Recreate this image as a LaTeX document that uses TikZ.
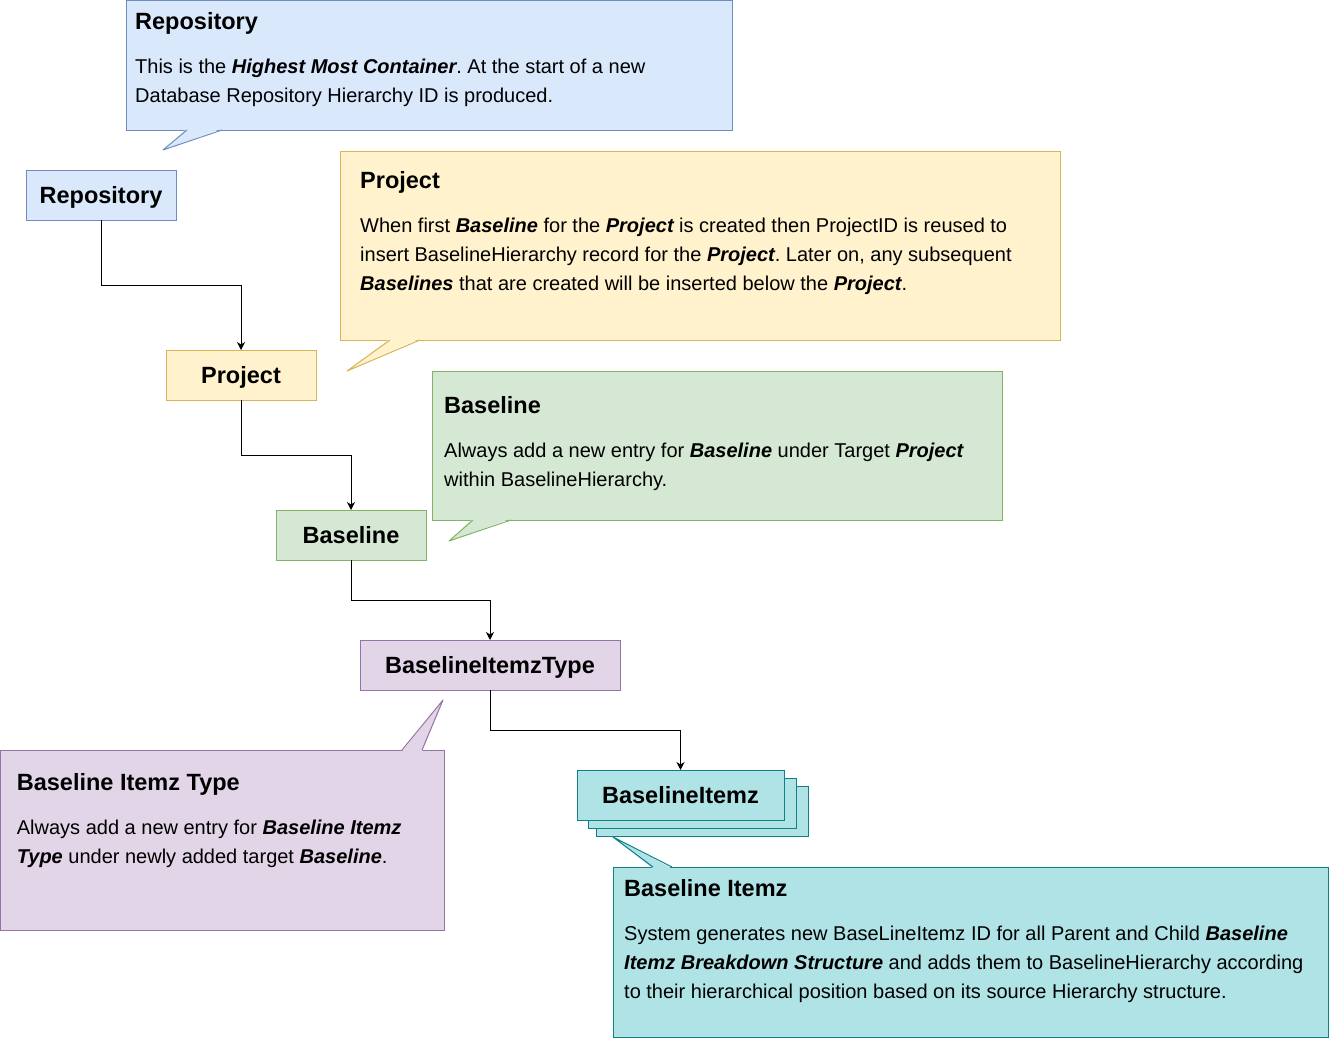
\documentclass[tikz,border=0pt]{standalone}
\usepackage{fontspec}
\setmainfont{Liberation Sans}
\usetikzlibrary{positioning, arrows.meta}

\definecolor{repoFill}{HTML}{DAE8FC}
\definecolor{repoLine}{HTML}{6C8EBF}
\definecolor{projFill}{HTML}{FFF2CC}
\definecolor{projLine}{HTML}{D6B656}
\definecolor{baseFill}{HTML}{D5E8D4}
\definecolor{baseLine}{HTML}{82B366}
\definecolor{typeFill}{HTML}{E1D5E7}
\definecolor{typeLine}{HTML}{9673A6}
\definecolor{itemFill}{HTML}{B0E3E6}
\definecolor{itemLine}{HTML}{0E8088}

\newcommand{\bfit}[1]{{\bfseries\itshape #1}}

\begin{document}
\begin{tikzpicture}[x=1pt, y=-1pt]
    \tikzset{
        box/.style = {rectangle, draw=#1Line, fill=#1Fill, line width=1pt, outer sep=0pt, minimum width=150pt, minimum height=50pt, inner sep=0pt, text height=16.8pt, text depth=0pt, font=\fontsize{23.5}{28}\selectfont\bfseries},
        note/.style = {rectangle, draw=#1Line, fill=#1Fill, line width=1pt, outer sep=0pt, anchor=north west, inner sep=0pt},
        notetext/.style = {anchor=base west, inner sep=0pt, align=left, font=\fontsize{20}{29}\selectfont\frenchspacing},
        line/.style = {draw=black, line width=1pt, -{Stealth[length=8pt, width=8pt, inset=2.5pt]}},
        tail/.style = {draw=#1Line, line width=1pt, line join=round},
    }
    \useasboundingbox (0,0) rectangle (1330,1041);

    % hierarchy
    \node[box=repo](repo) at (101,195) {Repository};
    \node[box=proj](project)[below right = 130pt and -10pt of repo]{Project};
    \node[box=base](baseline)[below right = 110pt and -40pt of project]{Baseline};
    \node[box=type, minimum width=260pt](itemtype)[below right = 80pt and -66pt of baseline]{BaselineItemzType};

    \node[box=item, minimum width=212pt](itemsBack) at (702,811) {};
    \node[box=item, minimum width=208pt](itemsMid) at (692,803) {};
    \node[box=item, minimum width=207pt](items)[below right = 80pt and -43pt of itemtype]{BaselineItemz};

    \path [line] (repo.south) -- ++(0,65) -| (project.north);
    \path [line] (project.south) -- ++(0,55) -| (baseline.north);
    \path [line] (baseline.south) -- ++(0,40) -| (itemtype.north);
    \path [line] (itemtype.south) -- ++(0,40) -| (items.north);

    % callouts (text anchored at the baseline of its last line)
    \node[note=repo, minimum width=606pt, minimum height=129.5pt](repoNote) at (126,0.5) {};
    \fill[repoFill] (187,128.5) -- (163,150) -- (222,128.5) -- cycle;
    \draw[tail=repo] (187,130) -- (163,150) -- (222,130);
    \node[notetext](repoText) at (135,102.5) {{\fontsize{23.5}{29}\selectfont\bfseries Repository}\\[15.5pt]
        This is the \bfit{Highest Most Container}. At the start of a new\\
        Database Repository Hierarchy ID is produced.};

    \node[note=proj, minimum width=720pt, minimum height=189pt](projNote) at (340,151) {};
    \fill[projFill] (390,338.5) -- (347,371) -- (420,338.5) -- cycle;
    \draw[tail=proj] (390,340) -- (347,371) -- (420,340);
    \node[notetext](projText) at (360,290.5) {{\fontsize{23.5}{29}\selectfont\bfseries Project}\\[15pt]
        When first \bfit{Baseline} for the \bfit{Project} is created then ProjectID is reused to\\
        insert BaselineHierarchy record for the \bfit{Project}. Later on, any subsequent\\
        \bfit{Baselines} that are created will be inserted below the \bfit{Project}.};

    \node[note=base, minimum width=570pt, minimum height=149pt](baseNote) at (432,371) {};
    \fill[baseFill] (473,518.5) -- (449,541) -- (511,518.5) -- cycle;
    \draw[tail=base] (473,520) -- (449,541) -- (511,520);
    \node[notetext](baseText) at (444,486) {{\fontsize{23.5}{29}\selectfont\bfseries Baseline}\\[15pt]
        Always add a new entry for \bfit{Baseline} under Target \bfit{Project}\\
        within BaselineHierarchy.};

    \node[note=type, minimum width=443.5pt, minimum height=180pt](typeNote) at (0.5,750) {};
    \fill[typeFill] (402,751.5) -- (443,700) -- (422,751.5) -- cycle;
    \draw[tail=type] (402,750) -- (443,700) -- (422,750);
    \node[notetext](typeText) at (16.7,863) {{\fontsize{23.5}{29}\selectfont\bfseries Baseline Itemz Type}\\[15pt]
        Always add a new entry for \bfit{Baseline Itemz}\\
        \bfit{Type} under newly added target \bfit{Baseline}.};

    \node[note=item, minimum width=715pt, minimum height=170pt](itemNote) at (613,867) {};
    \fill[itemFill] (653,868.5) -- (613,837) -- (672,868.5) -- cycle;
    \draw[tail=item] (653,867) -- (613,837) -- (672,867);
    \node[notetext](itemText) at (624,998) {{\fontsize{23.5}{29}\selectfont\bfseries Baseline Itemz}\\[15pt]
        System generates new BaseLineItemz ID for all Parent and Child \bfit{Baseline}\\
        \bfit{Itemz Breakdown Structure} and adds them to BaselineHierarchy according\\
        to their hierarchical position based on its source Hierarchy structure.};

\end{tikzpicture}
\end{document}
